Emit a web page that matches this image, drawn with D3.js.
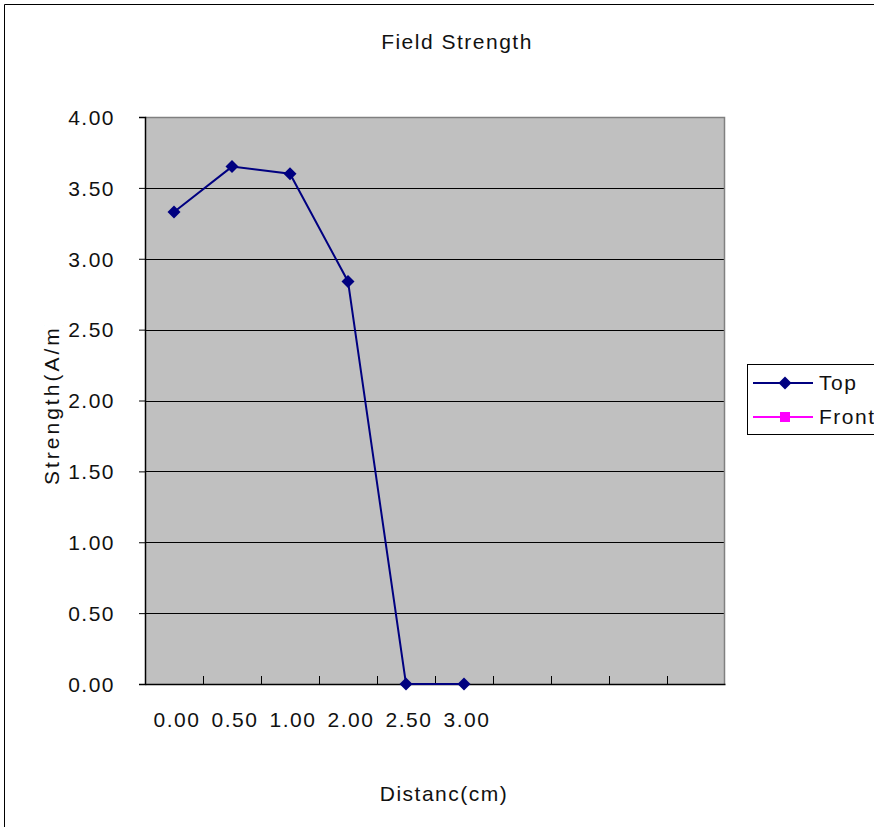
<!DOCTYPE html>
<html><head><meta charset="utf-8">
<script src="https://cdn.jsdelivr.net/npm/d3@7"></script>
<style>body{margin:0;background:#fff}svg{display:block}text{font-family:"Liberation Sans",Arial,sans-serif;fill:#111;letter-spacing:1.5px}</style>
</head><body>
<script>
const categories = ["0.00","0.50","1.00","2.00","2.50","3.00","","","",""];
const topValues = [3.33, 3.65, 3.60, 2.84, 0, 0, null, null, null, null];
const frontValues = [null, null, null, null, null, null, null, null, null, null];
const yTicks = [0,0.5,1,1.5,2,2.5,3,3.5,4];
const seriesNames = ["Top","Front"];
const seriesColors = ["#000080","#ff00ff"];

const W=874,H=827;
const svg=d3.select("body").append("svg").attr("width",W).attr("height",H);
svg.append("path").attr("d","M4.5,827V4.5H874").attr("fill","none").attr("stroke","#000").attr("stroke-width",1);

const L=145,R=725,T=117,B=684;
const x=d3.scaleBand().domain(d3.range(categories.length)).range([L,R]).padding(0);
const y=d3.scaleLinear().domain([0,4]).range([B,T]);

svg.append("rect").attr("x",L).attr("y",T).attr("width",R-L).attr("height",B-T).attr("fill","#c0c0c0");
svg.append("g").selectAll("line").data(yTicks.filter(d=>d>0&&d<4)).join("line")
  .attr("x1",L).attr("x2",R).attr("y1",d=>Math.round(y(d))+0.5).attr("y2",d=>Math.round(y(d))+0.5)
  .attr("stroke","#000").attr("stroke-width",1);
svg.append("path").attr("d",`M${L},${T+0.5}H${R-0.5}V${B}`).attr("fill","none").attr("stroke","#808080").attr("stroke-width",1.5);

const fontCss='"Liberation Sans",Arial,sans-serif';
const yAxis=svg.append("g").attr("transform",`translate(${L},0)`)
  .call(d3.axisLeft(y).tickValues(yTicks).tickFormat(d3.format(".2f")).tickSize(6).tickPadding(24));
yAxis.select(".domain").attr("stroke","#000").attr("stroke-width",1.5);
yAxis.selectAll("text").style("font-size","21px").attr("dy","0.35em").style("font-family",fontCss).attr("fill","#111");

const xAxis=svg.append("g").attr("transform",`translate(0,${B})`)
  .call(d3.axisBottom(x).tickFormat(i=>categories[i]).tickSize(0).tickPadding(28));
xAxis.select(".domain").attr("stroke","#000").attr("stroke-width",1.5);
xAxis.selectAll("text").style("font-size","21px").style("font-family",fontCss).attr("fill","#111").attr("dx","3");
const bounds=d3.range(categories.length+1).map(i=>L+i*x.bandwidth());
svg.append("g").selectAll("line").data(bounds.slice(1,-1)).join("line")
  .attr("x1",d=>Math.round(d)+0.5).attr("x2",d=>Math.round(d)+0.5).attr("y1",B-8).attr("y2",B)
  .attr("stroke","#000").attr("stroke-width",1);

const cx=i=>x(i)+x.bandwidth()/2;
const line=d3.line().defined(d=>d!=null).x((d,i)=>cx(i)).y(d=>y(d));
const diamond="M0,-6.5L6.5,0L0,6.5L-6.5,0Z";
const square="M-5,-5H5V5H-5Z";

[[topValues,0,diamond],[frontValues,1,square]].forEach(([vals,k,sym])=>{
  svg.append("path").datum(vals).attr("d",line).attr("fill","none").attr("stroke",seriesColors[k]).attr("stroke-width",2);
  svg.append("g").selectAll("path").data(vals.map((v,i)=>[v,i]).filter(d=>d[0]!=null)).join("path")
    .attr("d",sym).attr("transform",d=>`translate(${cx(d[1])},${y(d[0])})`).attr("fill",seriesColors[k]);
});

svg.append("text").attr("x",457).attr("y",49).attr("text-anchor","middle").style("font-size","21px").text("Field Strength");
svg.append("text").attr("x",444).attr("y",801).attr("text-anchor","middle").style("font-size","21px").text("Distanc(cm)");
svg.append("clipPath").attr("id","yc").append("rect").attr("x",0).attr("y",325).attr("width",100).attr("height",300);
svg.append("g").attr("clip-path","url(#yc)").append("text")
  .attr("transform","translate(59,485) rotate(-90)").attr("text-anchor","start").style("font-size","21px").style("letter-spacing","3px").text("Strength(A/m)");

const lg=svg.append("g");
lg.append("rect").attr("x",747.5).attr("y",364.5).attr("width",140).attr("height",70).attr("fill","#fff").attr("stroke","#000");
const ly=[383,417];
seriesNames.forEach((n,k)=>{
  lg.append("line").attr("x1",753).attr("x2",813).attr("y1",ly[k]).attr("y2",ly[k]).attr("stroke",seriesColors[k]).attr("stroke-width",2);
  lg.append("path").attr("d",k==0?diamond:square).attr("transform",`translate(785,${ly[k]})`).attr("fill",seriesColors[k]);
  lg.append("text").attr("x",819).attr("y",ly[k]+7).style("font-size","21px").text(n);
});
</script>
</body></html>
